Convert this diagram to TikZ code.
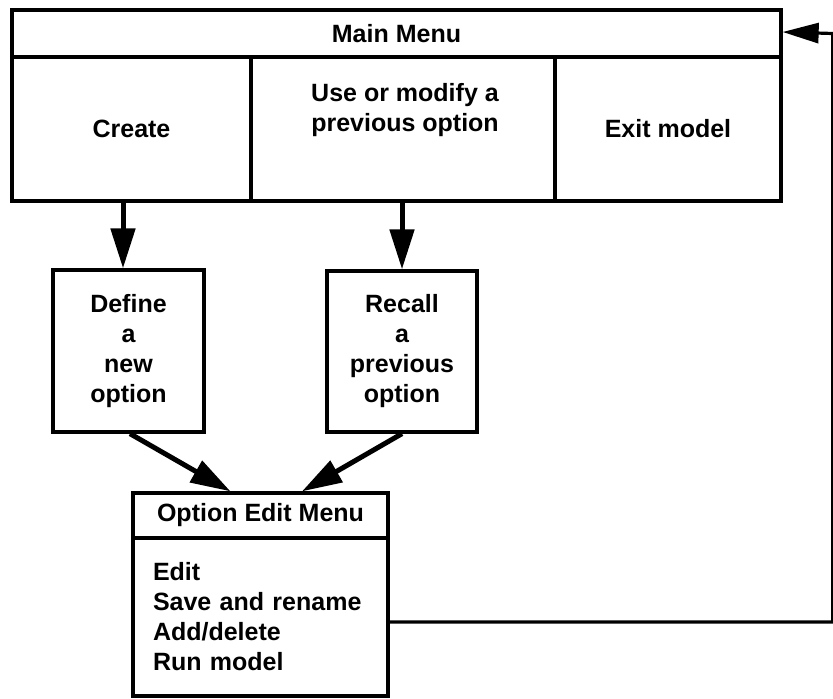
\documentclass[tikz,border=0pt]{standalone}
\usepackage{fontspec}
\setmainfont{Liberation Sans}
\usetikzlibrary{arrows.meta,positioning}
\begin{document}
\begin{tikzpicture}[x=1pt,y=-1pt,
  box/.style={draw,line width=3.3pt,inner sep=0pt,rectangle},
  lbl/.style={font=\fontsize{25}{30}\selectfont\bfseries,align=center,inner sep=0pt},
  arr/.style={line width=5pt,-{Triangle[length=40pt,width=24pt]}},
  fb/.style={line width=3.2pt,-{Triangle[length=36pt,width=20pt]}}]
\useasboundingbox (0,0) rectangle (833,699);
% main menu
\node[box,minimum width=769pt,minimum height=47pt,lbl] (head) at (396.5,33.5) {Main Menu};
\node[box,minimum width=239pt,minimum height=144pt,lbl] (col1) at (131.5,129) {Create};
\node[box,minimum width=304pt,minimum height=144pt] (col2) at (403,129) {};
\node[lbl] (col2txt) at (405,110) {Use or modify a\\previous option};
\node[box,minimum width=226pt,minimum height=144pt,lbl] (col3) at (668,129) {Exit model};
% second row
\node[box,minimum width=151pt,minimum height=162pt,lbl] (define) at (128.5,351) {Define\\a\\new\\option};
\node[box,minimum width=150pt,minimum height=161pt,lbl] (recall) at (402,351.5) {Recall\\a\\previous\\option};
% option edit menu
\node[box,minimum width=255pt,minimum height=45pt,lbl] (oehead) at (260.5,515.5) {Option Edit Menu};
\node[box,minimum height=158pt,lbl,align=left,text width=215pt,inner xsep=20pt] (oebody) at (260.5,617) {Edit\\Save and rename\\Add/delete\\Run model};
% connectors
\draw[arr] ([xshift=-8.5pt]col1.south) -- ([xshift=-5.5pt]define.north);
\draw[arr] (col2.south -| recall.north) -- (recall.north);
\draw[arr] ([xshift=1.5pt]define.south) -- ([xshift=-30pt]oehead.north);
\draw[arr] (recall.south) -- ([xshift=41.5pt]oehead.north);
\coordinate (fbcorner) at ([xshift=50pt]head.east);
\draw[fb] ([yshift=-5pt]oebody.east) -| (fbcorner) -- ([yshift=1.5pt]head.east);
\end{tikzpicture}
\end{document}
